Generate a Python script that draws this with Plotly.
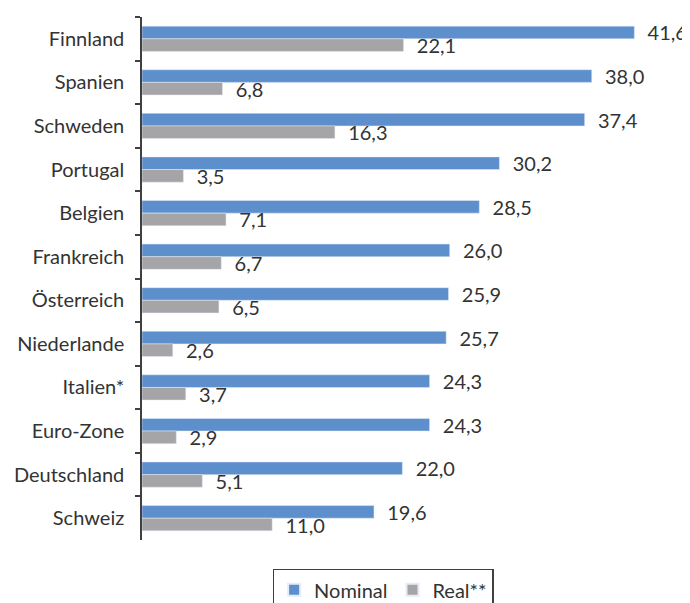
import plotly.graph_objects as go

countries = ["Finnland", "Spanien", "Schweden", "Portugal", "Belgien", "Frankreich",
             "Österreich", "Niederlande", "Italien*", "Euro-Zone", "Deutschland", "Schweiz"]
nominal = [41.6, 38.0, 37.4, 30.2, 28.5, 26.0, 25.9, 25.7, 24.3, 24.3, 22.0, 19.6]
real = [22.1, 6.8, 16.3, 3.5, 7.1, 6.7, 6.5, 2.6, 3.7, 2.9, 5.1, 11.0]

def fmt(vals):
    return ["  " + f"{v:.1f}".replace(".", ",") for v in vals]

FONT = "Lato"
TXT = "#333333"
FS = 20

fig = go.Figure()
fig.add_trace(go.Bar(y=countries, x=nominal, orientation="h", name="Nominal",
                     marker=dict(color="#5E8FCD"), text=fmt(nominal),
                     textposition="outside", constraintext="none", cliponaxis=False,
                     textfont=dict(size=FS, color=TXT, family=FONT)))
fig.add_trace(go.Bar(y=countries, x=real, orientation="h", name="Real**",
                     marker=dict(color="#A5A5A8"), text=fmt(real),
                     textposition="outside", constraintext="none", cliponaxis=False,
                     textfont=dict(size=FS, color=TXT, family=FONT)))

fig.update_layout(
    width=682, height=595,
    barmode="group", bargap=0.42, bargroupgap=0,
    separators=",.",
    plot_bgcolor="white", paper_bgcolor="white",
    font=dict(family=FONT, size=FS, color=TXT),
    margin=dict(l=134, r=0, t=9, b=63, autoexpand=False),
    xaxis=dict(range=[0, 46.3], visible=False),
    yaxis=dict(autorange="reversed", showline=True, linecolor="#404040", linewidth=1.5,
               ticks="outside", ticklen=5, tickcolor="#404040", tickwidth=1.5,
               tickson="boundaries", ticklabelstandoff=12, showgrid=False,
               tickfont=dict(size=FS, color=TXT, family=FONT)),
    legend=dict(orientation="h", x=0.44, xanchor="center", y=-0.055, yanchor="top",
                bordercolor="#404040", borderwidth=1.5, font=dict(size=FS, color=TXT, family=FONT),
                itemsizing="constant"),
)

fig.write_html("out.html")
